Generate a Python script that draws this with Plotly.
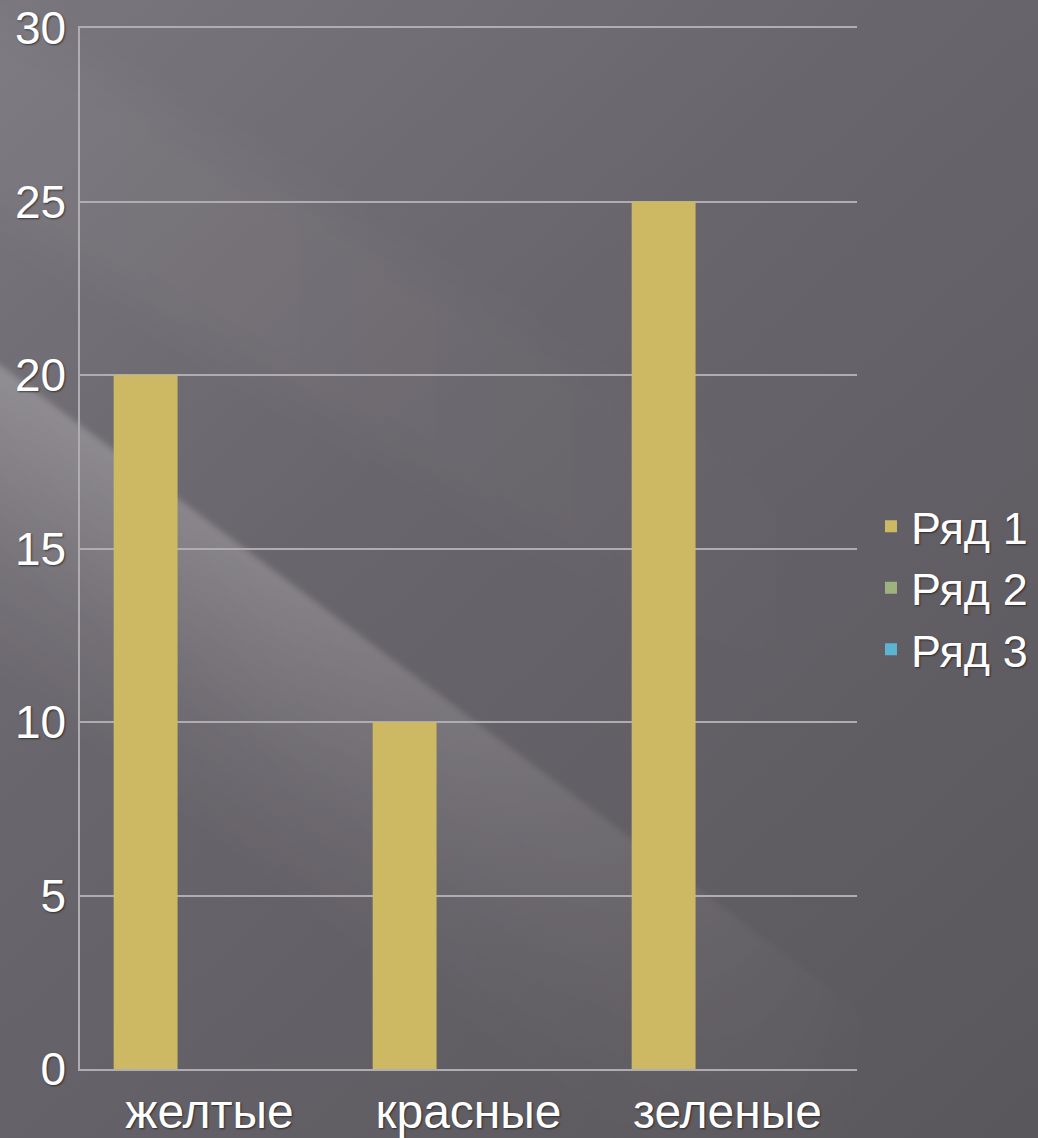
import plotly.graph_objects as go
import base64

categories = ["желтые", "красные", "зеленые"]
series_names = ["Ряд 1", "Ряд 2", "Ряд 3"]
series1 = [20, 10, 25]
series2 = [None, None, None]
series3 = [None, None, None]
y_ticks = [0, 5, 10, 15, 20, 25, 30]

colors = ["#CDB963", "#9DB27E", "#5DB4D1"]

W, H = 1038, 1138
ML, MR, MT, MB = 80, 181, 28, 69
PW, PH = W - ML - MR, H - MT - MB
FONT = "Liberation Sans, Arial, sans-serif"
shadow = "1px 1px 2px rgba(0,0,0,0.55)"

fig = go.Figure()
for name, vals, c in zip(series_names, [series1, series2, series3], colors):
    fig.add_trace(go.Bar(x=categories, y=vals, name=name,
                         marker=dict(color=c, line=dict(width=0))))

# decorative background (pure styling, as an inline SVG image)
S = 0.75  # streak slope


def band(off0, off1, slope, x0=-100, x1=1200):
    pts = [(x0, off0 + slope * x0), (x1, off0 + slope * x1),
           (x1, off1 + slope * x1), (x0, off1 + slope * x0)]
    return " ".join(f"{x:.1f},{y:.1f}" for x, y in pts)


ex, ey = 180, 500  # point on the sharp upper edge of the streak
off = ey - S * ex
nx, ny = -S / (1 + S * S) ** 0.5, 1 / (1 + S * S) ** 0.5
L = 260
svg = f'''<svg xmlns="http://www.w3.org/2000/svg" width="{W}" height="{H}" viewBox="0 0 {W} {H}">
<defs>
<linearGradient id="base" x1="0" y1="0" x2="{W}" y2="{H}" gradientUnits="userSpaceOnUse">
<stop offset="0" stop-color="#7a767d"/>
<stop offset="0.4" stop-color="#69656c"/>
<stop offset="1" stop-color="#59565c"/>
</linearGradient>
<linearGradient id="fade" x1="0" y1="0" x2="880" y2="0" gradientUnits="userSpaceOnUse">
<stop offset="0" stop-color="white" stop-opacity="1"/>
<stop offset="0.3" stop-color="white" stop-opacity="0.9"/>
<stop offset="0.65" stop-color="white" stop-opacity="0.45"/>
<stop offset="1" stop-color="white" stop-opacity="0"/>
</linearGradient>
<linearGradient id="across" x1="{ex}" y1="{ey}" x2="{ex + nx * L:.1f}" y2="{ey + ny * L:.1f}" gradientUnits="userSpaceOnUse">
<stop offset="0" stop-color="white" stop-opacity="0.22"/>
<stop offset="0.25" stop-color="white" stop-opacity="0.15"/>
<stop offset="0.6" stop-color="white" stop-opacity="0.06"/>
<stop offset="1" stop-color="white" stop-opacity="0"/>
</linearGradient>
<mask id="m"><rect width="{W}" height="{H}" fill="url(#fade)"/></mask>
<filter id="b1" x="-50%" y="-50%" width="200%" height="200%"><feGaussianBlur stdDeviation="3"/></filter>
<filter id="b3" x="-50%" y="-50%" width="200%" height="200%"><feGaussianBlur stdDeviation="25"/></filter>
</defs>
<rect width="{W}" height="{H}" fill="url(#base)"/>
<g mask="url(#m)">
<polygon points="{band(off, off + L / ny, S)}" fill="url(#across)" filter="url(#b1)"/>
<polygon points="{band(10, 220, 0.6)}" fill="white" opacity="0.04" filter="url(#b3)"/>
</g>
</svg>'''
src = "data:image/svg+xml;base64," + base64.b64encode(svg.encode()).decode()

grid = "#B0ADB2"
fig.update_layout(
    width=W, height=H,
    margin=dict(l=ML, r=MR, t=MT, b=MB, autoexpand=False),
    paper_bgcolor="#67636A",
    plot_bgcolor="rgba(0,0,0,0)",
    barmode="group",
    bargap=0.26,
    bargroupgap=0,
    font=dict(family=FONT, color="white", size=46, shadow=shadow),
    images=[dict(source=src, xref="paper", yref="paper",
                 x=-ML / PW, y=1 + MT / PH, sizex=W / PW, sizey=H / PH,
                 xanchor="left", yanchor="top", sizing="stretch", layer="below")],
    showlegend=True,
    legend=dict(x=1.018, xanchor="left", y=0.462, yanchor="middle",
                font=dict(family=FONT, size=45, color="white", shadow=shadow),
                bgcolor="rgba(0,0,0,0)", itemwidth=30, tracegroupgap=0,
                traceorder="normal"),
    xaxis=dict(showgrid=False, showline=True, mirror=True, linecolor=grid, linewidth=1.5,
               ticks="", tickfont=dict(size=48), automargin=False),
    yaxis=dict(range=[0, 30], tickvals=y_ticks, showgrid=True, gridcolor=grid,
               gridwidth=1.5, showline=True, linecolor=grid, linewidth=1.5,
               zeroline=False, ticks="", tickfont=dict(size=46),
               ticklabelstandoff=3, automargin=False),
)

fig.write_html("out.html", config={"displayModeBar": False},
               post_script="document.body.style.margin='0';document.body.style.overflow='hidden';")
